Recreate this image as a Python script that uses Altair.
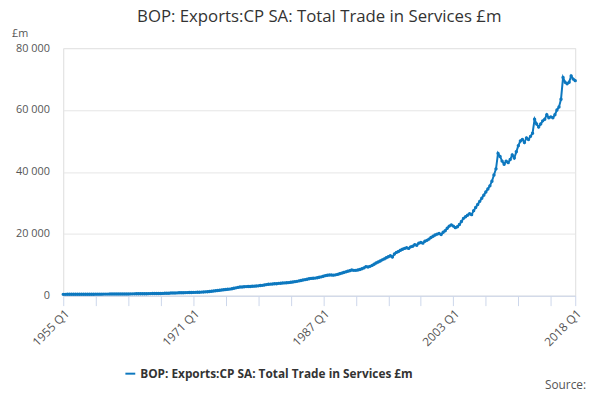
import pandas as pd
import altair as alt

start_year = 1955
values = [
    450, 455, 460, 465, 470, 475, 478, 482, 490, 495, 498, 500, 500, 502, 505, 508,
    510, 512, 515, 518, 525, 530, 535, 540, 545, 550, 555, 560, 565, 570, 575, 580,
    590, 600, 605, 615, 620, 630, 640, 650, 660, 670, 680, 690, 700, 710, 720, 735,
    745, 760, 780, 800, 830, 860, 880, 900, 920, 940, 960, 980, 1000, 1020, 1040, 1060,
    1080, 1100, 1120, 1150, 1180, 1220, 1260, 1300, 1380, 1460, 1540, 1620,
    1720, 1800, 1880, 1950, 2020, 2080, 2150, 2250, 2400, 2550, 2700, 2800,
    2850, 2900, 2950, 2980, 3000, 3050, 3100, 3150, 3200, 3300, 3350, 3450,
    3600, 3700, 3750, 3800, 3850, 3900, 4000, 4050, 4100, 4150, 4200, 4250,
    4350, 4450, 4550, 4650, 4800, 4950, 5100, 5200, 5350, 5500, 5600, 5650,
    5700, 5800, 5950, 6100, 6300, 6500, 6600, 6700, 6700, 6650, 6750, 6900,
    7100, 7300, 7500, 7700, 7900, 8100, 8300, 8200, 8200, 8300, 8500, 8700,
    9000, 9400, 9300, 9500, 9800, 10200, 10600, 10900, 11200, 11600, 11900, 12300,
    12600, 12900, 12500, 13500, 14000, 14300, 14700, 15000, 15300, 15500, 15300, 15800,
    16000, 16500, 16300, 17000, 17200, 17000, 17600, 17900, 18300, 18800, 19200, 19600,
    19900, 20100, 19800, 20500, 21000, 21800, 22500, 22900, 22500, 22000, 22300, 23000,
    24000, 25000, 25500, 26000, 26500, 26200, 27500, 28500, 29500, 30500, 31500, 32500,
    33500, 34500, 35500, 37000, 39000, 41000, 46000, 45000, 43500, 42500, 43500, 43000,
    44000, 45500, 44500, 46500, 48500, 50000, 50500, 49500, 51000, 50500, 51500, 52500,
    57000, 55500, 54500, 55500, 56500, 57000, 58500, 57500, 57800, 57500, 58500, 60000,
    61000, 63500, 70500, 69000, 68500, 69000, 71000, 70000, 69500,
]
series = "BOP: Exports:CP SA: Total Trade in Services £m"

df = pd.DataFrame({"q": range(len(values)), "value": values, "series": series})
last = len(values) - 1
tick_vals = list(range(0, last, 16)) + [last]

blue = "#0d78bf"

base = alt.Chart(df).encode(
    x=alt.X("q:Q", scale=alt.Scale(domain=[0, last], nice=False, zero=False),
            axis=alt.Axis(title=None, values=tick_vals, grid=False, labelAngle=-45,
                          labelAlign="right", labelBaseline="top", labelFontSize=12,
                          labelColor="#555", domainColor="#ccd6eb", tickColor="#ccd6eb",
                          tickSize=10, labelPadding=2,
                          labelExpr=f"(datum.value % 64 == 0 || datum.value == {last}) ? toString({start_year} + floor(datum.value / 4)) + ' Q' + toString(datum.value % 4 + 1) : ''")),
    y=alt.Y("value:Q", scale=alt.Scale(domain=[0, 80000]),
            axis=alt.Axis(title=None, values=[0, 20000, 40000, 60000, 80000], format=",d",
                          labelExpr="replace(datum.label, ',', ' ')", labelFontSize=11,
                          labelColor="#555", gridColor="#e6e6e6", domain=False, ticks=False,
                          labelPadding=14)),
    color=alt.Color("series:N", scale=alt.Scale(range=[blue]),
                    legend=alt.Legend(title=None, orient="none", legendX=62, legendY=324,
                                      symbolType="stroke", symbolStrokeWidth=2,
                                      labelFontSize=12, labelFontWeight="bold",
                                      labelColor="#333", labelLimit=500)),
)

line = base.mark_line(strokeWidth=2)
pts = base.mark_point(filled=True, size=12, opacity=1)

note = pd.DataFrame({"t": ["£m"]})
unit = alt.Chart(note).mark_text(align="left", fontSize=11, color="#555").encode(
    x=alt.value(-52), y=alt.value(-14), text="t:N")
src = alt.Chart(pd.DataFrame({"t": ["Source:"]})).mark_text(
    align="right", fontSize=12, color="#555").encode(
    x=alt.value(530), y=alt.value(342), text="t:N")

chart = alt.layer(line, pts, unit, src).properties(
    width=519, height=251,
    autosize="none",
    padding={"left": 56, "top": 38, "right": 17, "bottom": 103},
    title=alt.TitleParams(series, fontSize=17, fontWeight="normal", color="#333",
                          font="Open Sans", anchor="middle", offset=4, dy=2),
).configure_view(stroke=None).configure(font="Open Sans")

chart.save("out.html", embed_options={"renderer": "svg", "actions": False})
